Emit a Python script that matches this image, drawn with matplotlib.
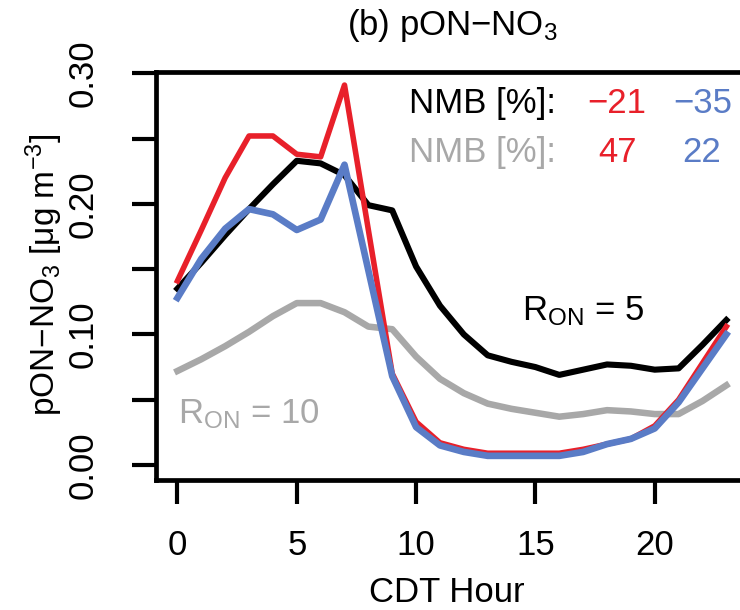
import numpy as np
import matplotlib
matplotlib.use('Agg')
import matplotlib.pyplot as plt

plt.rcParams['font.family'] = ['Liberation Sans', 'DejaVu Sans']
plt.rcParams['mathtext.fontset'] = 'custom'
plt.rcParams['mathtext.rm'] = 'Liberation Sans'
plt.rcParams['mathtext.it'] = 'Liberation Sans:italic'
plt.rcParams['mathtext.bf'] = 'Liberation Sans:bold'

# hourly diurnal profiles, ug m-3
hours = np.arange(24)
black_ron5 = [0.135, 0.155, 0.176, 0.196, 0.215, 0.233, 0.231, 0.222, 0.199, 0.195,
              0.152, 0.122, 0.100, 0.084, 0.079, 0.075, 0.069, 0.073, 0.077, 0.076,
              0.073, 0.074, 0.092, 0.111]
gray_ron10 = [0.072, 0.081, 0.091, 0.102, 0.114, 0.124, 0.124, 0.117, 0.106, 0.104,
              0.083, 0.066, 0.055, 0.047, 0.043, 0.040, 0.037, 0.039, 0.042, 0.041,
              0.039, 0.039, 0.049, 0.061]
red_series = [0.141, 0.180, 0.220, 0.252, 0.252, 0.238, 0.236, 0.291, 0.180, 0.070,
              0.033, 0.017, 0.012, 0.009, 0.009, 0.009, 0.009, 0.012, 0.016, 0.020,
              0.030, 0.050, 0.078, 0.106]
blue_series = [0.128, 0.158, 0.181, 0.196, 0.192, 0.180, 0.188, 0.230, 0.149, 0.068,
               0.029, 0.015, 0.010, 0.007, 0.007, 0.007, 0.007, 0.010, 0.016, 0.020,
               0.028, 0.048, 0.074, 0.100]

nmb_ron5 = ['\u221221', '\u221235']
nmb_ron10 = ['47', '22']

xticks = [0, 5, 10, 15, 20]
yticks = [0.0, 0.05, 0.10, 0.15, 0.20, 0.25, 0.30]
ylabels = ['0.00', '', '0.10', '', '0.20', '', '0.30']

c_red = '#e8202a'
c_blue = '#5a7cc6'
c_gray = '#a8a8a8'

W, H = 740, 610
fig = plt.figure(figsize=(W / 100, H / 100), dpi=100)
ax = fig.add_axes([155.5 / W, 1 - 480 / H, (748.3 - 155.5) / W, (480 - 72) / H])

ax.plot(hours, gray_ron10, color=c_gray, lw=4.7, solid_joinstyle='round')
ax.plot(hours, black_ron5, color='black', lw=4.4, solid_joinstyle='round')
ax.plot(hours, red_series, color=c_red, lw=4.0, solid_joinstyle='round')
ax.plot(hours, blue_series, color=c_blue, lw=4.8, solid_joinstyle='round')

ax.set_xlim(-0.92, 23.92)
ax.set_ylim(-0.0115, 0.301)
ax.set_xticks(xticks)
ax.set_yticks(yticks, labels=ylabels, rotation=90, va='center')

for sp in ax.spines.values():
    sp.set_linewidth(3.4)
ax.tick_params(axis='both', direction='out', length=17, width=3.0, labelsize=25)
ax.tick_params(axis='x', pad=18)
ax.tick_params(axis='y', pad=23)

# NMB annotations
ax.text(9.72, 0.277, 'NMB [%]:', color='black', fontsize=25, va='center', ha='left')
ax.text(9.72, 0.239, 'NMB [%]:', color=c_gray, fontsize=25, va='center', ha='left')
ax.text(18.41, 0.277, nmb_ron5[0], color=c_red, fontsize=25, va='center', ha='center')
ax.text(22.02, 0.277, nmb_ron5[1], color=c_blue, fontsize=25, va='center', ha='center')
ax.text(18.45, 0.239, nmb_ron10[0], color=c_red, fontsize=25, va='center', ha='center')
ax.text(21.97, 0.239, nmb_ron10[1], color=c_blue, fontsize=25, va='center', ha='center')

ax.text(17.02, 0.111, r'R$_{\mathrm{ON}}$ = 5', color='black', fontsize=25,
        ha='center', va='baseline')
ax.text(3.01, 0.032, r'R$_{\mathrm{ON}}$ = 10', color=c_gray, fontsize=25,
        ha='center', va='baseline')

fig.text(452 / W, 1 - 35 / H, '(b) pON\u2212NO$_3$', fontsize=25, ha='center', va='baseline')
fig.text(446.5 / W, 1 - 602 / H, 'CDT Hour', fontsize=25, ha='center', va='baseline')
fig.text(44 / W, 1 - 275 / H, 'pON\u2212NO$_3$ [\u03bcg m$^{-3}$]', fontsize=24,
         rotation=90, ha='center', va='center')

fig.savefig('out.png', dpi=100)
